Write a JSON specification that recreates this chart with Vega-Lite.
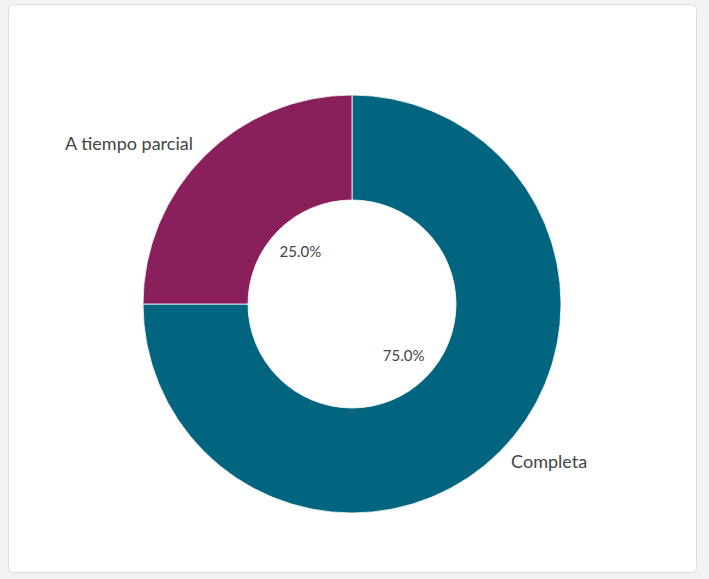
{
  "$schema": "https://vega.github.io/schema/vega-lite/v6.json",
  "autosize": "none",
  "width": 688,
  "height": 568,
  "padding": {"left": 8, "top": 4, "right": 13, "bottom": 7},
  "background": "#f2f2f2",
  "view": {"fill": "#ffffff", "stroke": "#dddddd", "cornerRadius": 5},
  "config": {
    "text": {"font": "Lato", "fill": "#444444"}
  },
  "data": {
    "values": [
      {"categoria": "Completa", "valor": 75, "orden": 1, "pct": "75.0%"},
      {"categoria": "A tiempo parcial", "valor": 25, "orden": 2, "pct": "25.0%"}
    ]
  },
  "encoding": {
    "theta": {"field": "valor", "type": "quantitative", "stack": true},
    "order": {"field": "orden", "type": "quantitative"}
  },
  "layer": [
    {
      "mark": {"type": "arc", "outerRadius": 209, "innerRadius": 104, "yOffset": 16, "stroke": "#ffffff", "strokeWidth": 0.8},
      "encoding": {
        "color": {
          "field": "categoria",
          "type": "nominal",
          "scale": {"domain": ["Completa", "A tiempo parcial"], "range": ["#02657f", "#891f5b"]},
          "legend": null
        }
      }
    },
    {
      "mark": {"type": "text", "radius": 73, "yOffset": 16, "fontSize": 15, "align": "center", "baseline": "middle"},
      "encoding": {"text": {"field": "pct", "type": "nominal"}}
    },
    {
      "mark": {
        "type": "text",
        "radius": 225,
        "yOffset": 16,
        "fontSize": 18,
        "baseline": "middle",
        "align": {"expr": "datum.categoria == 'Completa' ? 'left' : 'right'"}
      },
      "encoding": {"text": {"field": "categoria", "type": "nominal"}}
    }
  ]
}
